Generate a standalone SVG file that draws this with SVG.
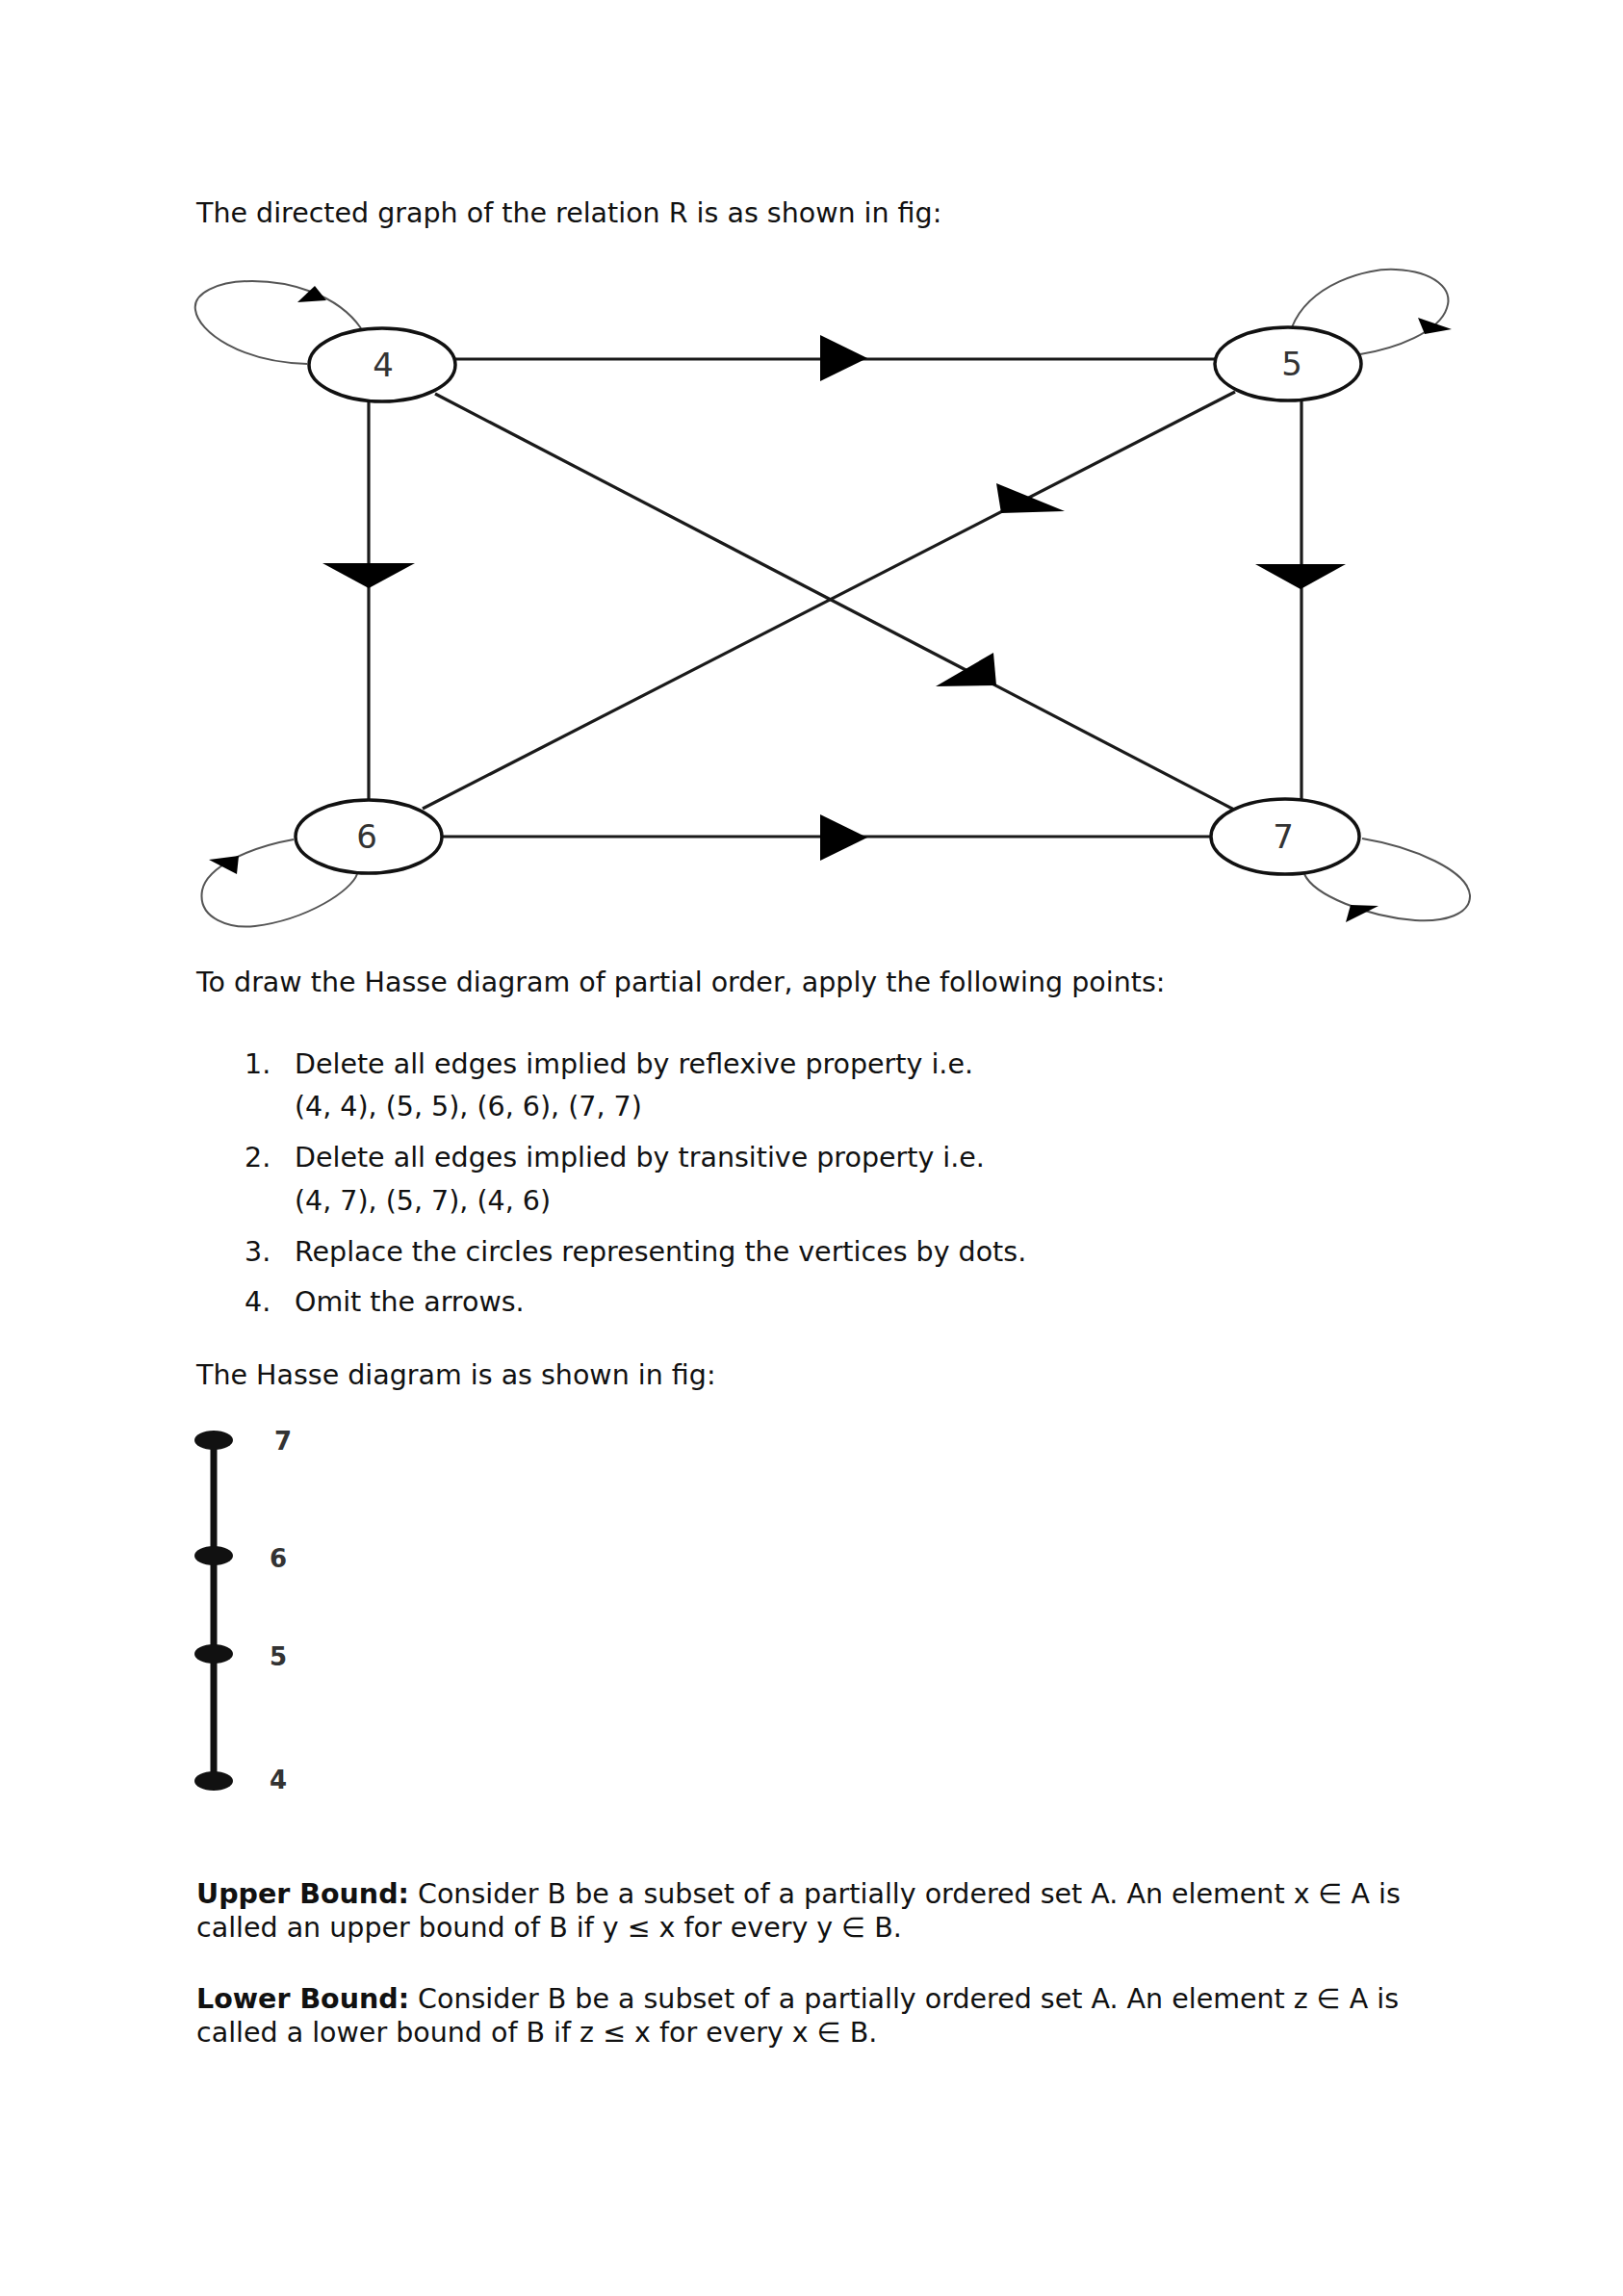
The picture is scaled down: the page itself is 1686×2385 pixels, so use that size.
<svg xmlns="http://www.w3.org/2000/svg" width="1686" height="2385" viewBox="0 0 1686 2385">
<style>
.t{font-family:"DejaVu Sans","Liberation Sans",sans-serif;font-size:28.5px;fill:#111}
.b{font-weight:bold}
.node{fill:#fff;stroke:#111;stroke-width:3.5}
.lbl{font-family:"DejaVu Sans",sans-serif;font-size:34px;fill:#333;text-anchor:middle}
.edge{stroke:#1a1a1a;stroke-width:3.2;fill:none}
.loop{stroke:#555;stroke-width:2;fill:none}
.ah{fill:#000}
.hl{font-family:"DejaVu Sans",sans-serif;font-weight:bold;font-size:26px;fill:#333}
</style>
<rect width="1686" height="2385" fill="#fff"/>
<text class="t" x="204" y="231">The directed graph of the relation R is as shown in fig:</text>

<g id="connectors">
<line class="edge" x1="473" y1="373" x2="1262" y2="373"/>
<polygon class="ah" points="852,348 852,396 901,372"/>
<line class="edge" x1="383" y1="416" x2="383" y2="831"/>
<polygon class="ah" points="335,585 431,585 383,611"/>
<line class="edge" x1="1352" y1="416" x2="1352" y2="831"/>
<polygon class="ah" points="1304,586 1398,586 1351,612"/>
<line class="edge" x1="459" y1="869" x2="1258" y2="869"/>
<polygon class="ah" points="852,846 852,894 901,870"/>
<line class="edge" x1="452" y1="409" x2="1282" y2="841"/>
<polygon class="ah" points="972,713 1032,678 1035,712"/>
<line class="edge" x1="1283" y1="407" x2="439" y2="840"/>
<polygon class="ah" points="1035,502 1040,533 1106,531"/>
<path class="loop" d="M375 341 C350 305 300 292 262 292 C225 292 200 305 203 322 C206 345 250 376 319 378"/>
<polygon class="ah" points="309,314 327,297 339,312"/>
<path class="loop" d="M1342 340 C1360 295 1420 278 1450 280 C1490 282 1510 300 1503 320 C1495 345 1450 362 1413 368"/>
<polygon class="ah" points="1473,330 1508,342 1480,347"/>
<path class="loop" d="M305 872 C260 880 215 900 210 925 C205 955 240 965 265 962 C320 955 365 925 371 908"/>
<polygon class="ah" points="217,893 248,889 246,908"/>
<path class="loop" d="M1415 871 C1470 880 1525 905 1527 930 C1528 950 1500 958 1470 956 C1420 952 1365 930 1355 908"/>
<polygon class="ah" points="1398,958 1403,940 1432,941"/>
</g>

<g id="node4"><ellipse class="node" cx="397" cy="379" rx="76" ry="38"/><text class="lbl" x="398" y="391">4</text></g>
<g id="node5"><ellipse class="node" cx="1338" cy="378" rx="76" ry="38"/><text class="lbl" x="1342" y="390">5</text></g>
<g id="node6"><ellipse class="node" cx="383" cy="869" rx="76" ry="38"/><text class="lbl" x="381" y="881">6</text></g>
<g id="node7"><ellipse class="node" cx="1335" cy="869" rx="77" ry="39"/><text class="lbl" x="1333" y="881">7</text></g>

<text class="t" x="204" y="1030">To draw the Hasse diagram of partial order, apply the following points:</text>
<text class="t" x="254" y="1115">1.</text>
<text class="t" x="306" y="1115">Delete all edges implied by reflexive property i.e.</text>
<text class="t" x="306" y="1159">(4, 4), (5, 5), (6, 6), (7, 7)</text>
<text class="t" x="254" y="1212">2.</text>
<text class="t" x="306" y="1212">Delete all edges implied by transitive property i.e.</text>
<text class="t" x="306" y="1257">(4, 7), (5, 7), (4, 6)</text>
<text class="t" x="254" y="1310">3.</text>
<text class="t" x="306" y="1310">Replace the circles representing the vertices by dots.</text>
<text class="t" x="254" y="1362">4.</text>
<text class="t" x="306" y="1362">Omit the arrows.</text>
<text class="t" x="204" y="1438">The Hasse diagram is as shown in fig:</text>

<g id="hasse">
<line x1="222" y1="1496" x2="222" y2="1850" stroke="#111" stroke-width="7"/>
<g id="h7"><ellipse cx="222" cy="1496" rx="20" ry="10" fill="#111"/><text class="hl" x="285" y="1506">7</text></g>
<g id="h6"><ellipse cx="222" cy="1616" rx="20" ry="10" fill="#111"/><text class="hl" x="280" y="1628">6</text></g>
<g id="h5"><ellipse cx="222" cy="1718" rx="20" ry="10" fill="#111"/><text class="hl" x="280" y="1730">5</text></g>
<g id="h4"><ellipse cx="222" cy="1850" rx="20" ry="10" fill="#111"/><text class="hl" x="280" y="1858">4</text></g>
</g>

<text class="t" x="204" y="1977"><tspan class="b">Upper Bound:</tspan> Consider B be a subset of a partially ordered set A. An element x ∈ A is</text>
<text class="t" x="204" y="2012">called an upper bound of B if y ≤ x for every y ∈ B.</text>
<text class="t" x="204" y="2086"><tspan class="b">Lower Bound:</tspan> Consider B be a subset of a partially ordered set A. An element z ∈ A is</text>
<text class="t" x="204" y="2121">called a lower bound of B if z ≤ x for every x ∈ B.</text>
</svg>
